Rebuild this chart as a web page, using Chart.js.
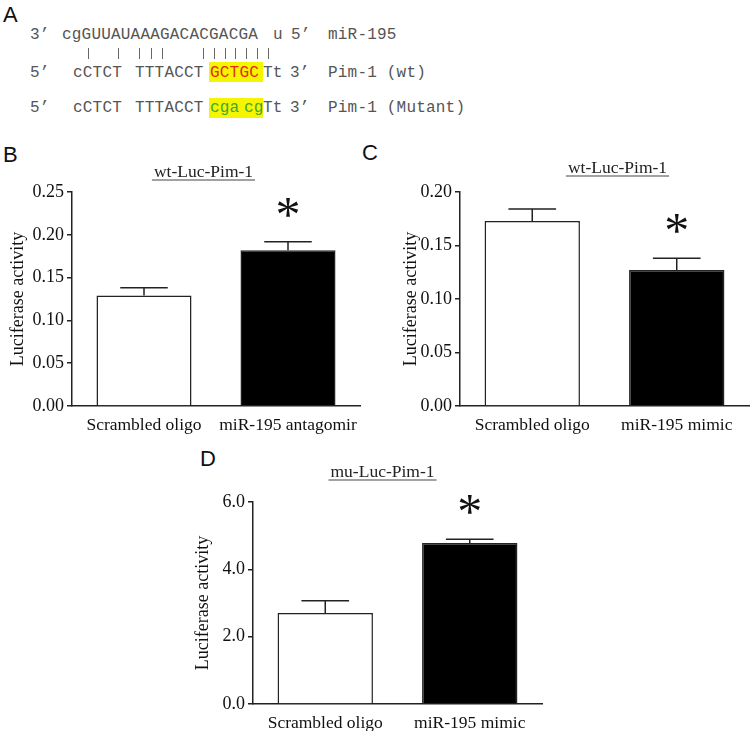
<!DOCTYPE html>
<html>
<head>
<meta charset="utf-8">
<script src="https://cdn.jsdelivr.net/npm/chart.js@4"></script>
<style>
  body { margin: 0; background: #fff; }
  #page { position: relative; width: 750px; height: 731px; overflow: hidden; background: #fff; }
  .lbl { position: absolute; font: 22px/22px "Liberation Sans", Arial, sans-serif; color: #111; }
  .seq { position: absolute; font: 16px/18px "Liberation Mono", "Courier New", monospace; letter-spacing: 0.2px; color: #555; white-space: pre; }
  .hl { position: absolute; background: #f5f500; }
  .pair { position: absolute; width: 1px; height: 11px; top: 48px; background: #666; }
  canvas { position: absolute; }
</style>
</head>
<body>
<div id="page">
  <div class="lbl" style="left:3px;top:4px">A</div>
  <div class="lbl" style="left:3px;top:144px">B</div>
  <div class="lbl" style="left:362px;top:142px">C</div>
  <div class="lbl" style="left:200px;top:448px">D</div>

  <!-- panel A: seed match -->
  <div class="hl" style="left:209px;top:62px;width:54px;height:20px"></div>
  <div class="hl" style="left:209px;top:98px;width:54px;height:20px"></div>

  <div class="seq" style="left:30px;top:26px">3&#8217;</div>
  <div class="seq" style="left:62px;top:26px">cgGUUAUAAAGACACGACGA</div>
  <div class="seq" style="left:273px;top:26px">u</div>
  <div class="seq" style="left:291px;top:26px">5&#8217;</div>
  <div class="seq" style="left:328px;top:26px">miR-195</div>

  <div id="pairs"></div>

  <div class="seq" style="left:30px;top:64px">5&#8217;</div>
  <div class="seq" style="left:73px;top:64px">cCTCT</div>
  <div class="seq" style="left:135px;top:64px">TTTACCT</div>
  <div class="seq" style="left:210px;top:64px;color:#e8281c">GCTGC</div>
  <div class="seq" style="left:263px;top:64px">Tt</div>
  <div class="seq" style="left:290px;top:64px">3&#8217;</div>
  <div class="seq" style="left:328px;top:64px">Pim-1 (wt)</div>

  <div class="seq" style="left:30px;top:99px">5&#8217;</div>
  <div class="seq" style="left:73px;top:99px">cCTCT</div>
  <div class="seq" style="left:135px;top:99px">TTTACCT</div>
  <div class="seq" style="left:210px;top:99px;color:#3aa83a">cga</div>
  <div class="seq" style="left:244px;top:99px;color:#3aa83a">cg</div>
  <div class="seq" style="left:263px;top:99px">Tt</div>
  <div class="seq" style="left:290px;top:99px">3&#8217;</div>
  <div class="seq" style="left:328px;top:99px">Pim-1 (Mutant)</div>

  <canvas id="chartB" width="362" height="296" style="left:0px;top:150px"></canvas>
  <canvas id="chartC" width="362" height="296" style="left:388px;top:150px"></canvas>
  <canvas id="chartD" width="362" height="294" style="left:181px;top:450px"></canvas>
</div>
<script>
// panel B: wt reporter, antagomir
const groupsB = ['Scrambled oligo', 'miR-195 antagomir'];
const meanB = [0.129, 0.182];
const semB = [0.009, 0.010];
const sigB = [false, true];
const ticksB = [0, 0.05, 0.10, 0.15, 0.20, 0.25];

// panel C: wt reporter, mimic
const groupsC = ['Scrambled oligo', 'miR-195 mimic'];
const meanC = [0.173, 0.127];
const semC = [0.011, 0.011];
const sigC = [false, true];
const ticksC = [0, 0.05, 0.10, 0.15, 0.20];

// panel D: mutant reporter, mimic
const groupsD = ['Scrambled oligo', 'miR-195 mimic'];
const meanD = [2.70, 4.78];
const semD = [0.37, 0.11];
const sigD = [false, true];
const ticksD = [0, 2, 4, 6];

// paired bases in panel A (x of each bar)
const pairX = [88, 118, 139, 151, 162, 203, 214, 225, 235, 246, 257, 268];

const pairs = document.getElementById('pairs');
pairX.forEach(x => {
  const d = document.createElement('div');
  d.className = 'pair';
  d.style.left = x + 'px';
  pairs.appendChild(d);
});

Chart.defaults.font.family = '"Liberation Serif", "Times New Roman", serif';
Chart.defaults.color = '#111';

function makeChart(id, labels, means, sems, sig, ticks, decimals, cfg) {
  const extras = {
    id: 'extras' + id,
    afterDatasetsDraw(chart) {
      const ctx = chart.ctx;
      const y = chart.scales.y;
      const bars = chart.getDatasetMeta(0).data;
      ctx.save();
      ctx.strokeStyle = '#222';
      ctx.lineWidth = 1.5;
      bars.forEach((bar, i) => {
        const top = y.getPixelForValue(means[i] + sems[i]);
        const half = bar.width / 4;
        ctx.beginPath();
        ctx.moveTo(bar.x, bar.y);
        ctx.lineTo(bar.x, top);
        ctx.moveTo(bar.x - half, top);
        ctx.lineTo(bar.x + half, top);
        ctx.stroke();
        if (sig[i]) {
          ctx.fillStyle = '#111';
          ctx.font = '50px "Liberation Serif"';
          ctx.textAlign = 'center';
          ctx.textBaseline = 'alphabetic';
          ctx.fillText('*', bar.x, top - 34 + 23);
        }
      });
      // underlined panel title
      ctx.fillStyle = '#222';
      ctx.font = '17.5px "Liberation Serif"';
      ctx.textAlign = 'center';
      ctx.textBaseline = 'middle';
      ctx.fillText(cfg.title, cfg.titleX, cfg.titleY);
      const w = ctx.measureText(cfg.title).width;
      ctx.strokeStyle = '#444';
      ctx.lineWidth = 1;
      ctx.beginPath();
      ctx.moveTo(cfg.titleX - w / 2 - 2, cfg.titleY + 8);
      ctx.lineTo(cfg.titleX + w / 2 + 2, cfg.titleY + 8);
      ctx.stroke();
      ctx.restore();
    }
  };

  return new Chart(document.getElementById(id), {
    type: 'bar',
    data: {
      labels: labels,
      datasets: [{
        data: means,
        backgroundColor: ['#ffffff', '#000000'],
        borderColor: '#222',
        borderWidth: 1.5,
        barPercentage: 0.66,
        categoryPercentage: 1
      }]
    },
    options: {
      responsive: false,
      animation: false,
      devicePixelRatio: 1,
      layout: { padding: { top: cfg.padTop, right: cfg.padRight, left: 0, bottom: 0 } },
      plugins: { legend: { display: false }, tooltip: { enabled: false }, title: { display: false } },
      scales: {
        x: {
          grid: { display: false },
          border: { display: true, color: '#222', width: 1.5 },
          ticks: { font: { size: 17.5 }, padding: 1, maxRotation: 0, autoSkip: false },
          afterFit: s => { s.height = 40; }
        },
        y: {
          min: ticks[0],
          max: ticks[ticks.length - 1],
          afterBuildTicks: s => { s.ticks = ticks.map(v => ({ value: v })); },
          grid: { drawOnChartArea: false, drawTicks: true, tickLength: 5, color: '#222', lineWidth: 1.5 },
          border: { display: true, color: '#222', width: 1.5 },
          ticks: { font: { size: 18 }, padding: 3, callback: v => Number(v).toFixed(decimals) },
          title: { display: true, text: 'Luciferase activity', font: { size: 18 }, padding: { top: cfg.yTitlePad, bottom: 0 } },
          afterFit: s => { s.width = 72; }
        }
      }
    },
    plugins: [extras]
  });
}

makeChart('chartB', groupsB, meanB, semB, sigB, ticksB, 2,
  { title: 'wt-Luc-Pim-1', titleX: 203.5, titleY: 22, padTop: 42, padRight: 2, yTitlePad: 7 });
makeChart('chartC', groupsC, meanC, semC, sigC, ticksC, 2,
  { title: 'wt-Luc-Pim-1', titleX: 229.5, titleY: 18, padTop: 42, padRight: 1, yTitlePad: 12 });
makeChart('chartD', groupsD, meanD, semD, sigD, ticksD, 1,
  { title: 'mu-Luc-Pim-1', titleX: 201.5, titleY: 22, padTop: 52, padRight: 1, yTitlePad: 11 });
</script>
</body>
</html>
